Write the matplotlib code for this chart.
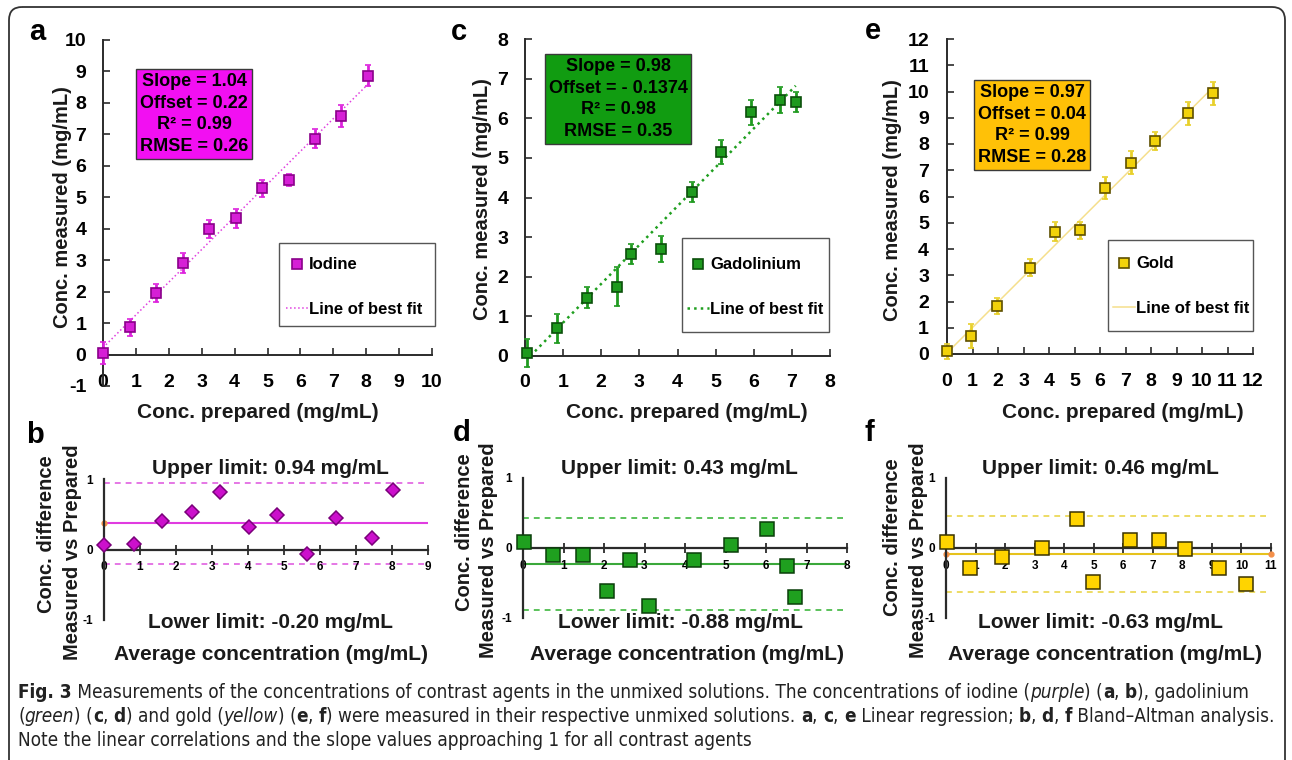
import os
import numpy as np
import matplotlib
matplotlib.use('Agg')
import matplotlib.pyplot as plt
import matplotlib.transforms as mtransforms
from matplotlib.patches import FancyBboxPatch, Rectangle
from matplotlib.lines import Line2D
from matplotlib import font_manager as fm

W, H = 1292, 760
plt.rcParams['font.family'] = ['Liberation Sans', 'DejaVu Sans']
plt.rcParams['font.weight'] = 'bold'
plt.rcParams['axes.unicode_minus'] = False

# ---------------- data ----------------
iodine_prepared = [0.0, 0.82, 1.6, 2.42, 3.23, 4.03, 4.84, 5.65, 6.44, 7.24, 8.06]
iodine_measured = [0.05, 0.87, 1.96, 2.9, 4.0, 4.33, 5.29, 5.55, 6.86, 7.58, 8.86]
iodine_err = [0.35, 0.27, 0.28, 0.32, 0.28, 0.3, 0.27, 0.2, 0.3, 0.35, 0.33]
iodine_fit = dict(slope=1.04, offset=0.22, r2=0.99, rmse=0.26)

gd_prepared = [0.04, 0.83, 1.62, 2.41, 2.79, 3.58, 4.37, 5.14, 5.92, 6.69, 7.1]
gd_measured = [0.07, 0.70, 1.47, 1.75, 2.58, 2.71, 4.14, 5.14, 6.15, 6.46, 6.41]
gd_err = [0.35, 0.37, 0.27, 0.5, 0.25, 0.33, 0.25, 0.3, 0.32, 0.33, 0.25]
gd_fit = dict(slope=0.98, offset=-0.1374, r2=0.98, rmse=0.35)

au_prepared = [0.0, 0.94, 1.95, 3.25, 4.25, 5.2, 6.18, 7.2, 8.17, 9.46, 10.44]
au_measured = [0.1, 0.69, 1.83, 3.29, 4.66, 4.72, 6.31, 7.29, 8.11, 9.17, 9.93]
au_err = [0.3, 0.45, 0.3, 0.32, 0.36, 0.32, 0.42, 0.44, 0.35, 0.44, 0.44]
au_fit = dict(slope=0.97, offset=0.04, r2=0.99, rmse=0.28)

iodine_avg = [0.0, 0.84, 1.62, 2.44, 3.21, 4.04, 4.81, 5.63, 6.44, 7.44, 8.04]
iodine_diff = [0.07, 0.08, 0.40, 0.53, 0.81, 0.32, 0.49, -0.06, 0.44, 0.17, 0.85]
iodine_limits = (0.94, -0.20)

gd_avg = [0.03, 0.73, 1.49, 2.07, 2.64, 3.11, 4.22, 5.14, 6.02, 6.53, 6.72]
gd_diff = [0.09, -0.10, -0.10, -0.61, -0.17, -0.83, -0.17, 0.05, 0.27, -0.25, -0.70]
gd_limits = (0.43, -0.88)

au_avg = [0.04, 0.81, 1.89, 3.24, 4.43, 4.99, 6.24, 7.22, 8.1, 9.25, 10.14]
au_diff = [0.09, -0.28, -0.13, 0.0, 0.42, -0.49, 0.12, 0.12, -0.02, -0.29, -0.52]
au_limits = (0.46, -0.63)

fig = plt.figure(figsize=(W / 100, H / 100), dpi=100)
PX = mtransforms.Affine2D().scale(1 / W, -1 / H).translate(0, 1) + fig.transFigure


def fx(x):
    return x / W


def fy(y):
    return 1 - y / H


def axes_px(x0, x1, ytop, ybot):
    return fig.add_axes([x0 / W, 1 - ybot / H, (x1 - x0) / W, (ybot - ytop) / H])


AXC = '#2b2b2b'


def regression_panel(ax, x, y, err, fit, xlim, ylim, ecolor, mfc, mec,
                     fit_style, box_color, box_center, name, leg_frame, leg_anchor,
                     xpad, ypad):
    ax.set_xlim(*xlim)
    ax.set_ylim(*ylim)
    for s in ['top', 'right']:
        ax.spines[s].set_visible(False)
    ax.spines['bottom'].set_position(('data', 0))
    for s in ['left', 'bottom']:
        ax.spines[s].set_color(AXC)
        ax.spines[s].set_linewidth(1.4)
    ax.set_xticks(np.arange(xlim[0], xlim[1] + 1))
    ax.set_yticks(np.arange(ylim[0], ylim[1] + 1))
    ax.tick_params(axis='both', direction='in', length=5, width=1.2, color=AXC, labelsize=14)
    ax.tick_params(axis='x', pad=xpad)
    ax.tick_params(axis='y', pad=ypad)
    for lab in ax.get_xticklabels() + ax.get_yticklabels():
        lab.set_fontweight('bold')
    x = np.asarray(x)
    x_start = max(0.0, -fit['offset'] / fit['slope'])
    xf = np.array([x_start, x.max()])
    ax.plot(xf, fit['slope'] * xf + fit['offset'], **fit_style, zorder=2)
    cont = ax.errorbar(x, y, yerr=err, fmt='s', ms=7.5, mfc=mfc, mec=mec, mew=1.2,
                       ecolor=ecolor, elinewidth=2, capsize=2.5, capthick=1.5, zorder=3)
    for art in cont.get_children():
        art.set_clip_on(False)
    off = fit['offset']
    off_txt = f"- {abs(off):g}" if off < 0 else f"{off:.2f}"
    txt = (f"Slope = {fit['slope']:.2f}\nOffset = {off_txt}\n"
           f"R\u00b2 = {fit['r2']:.2f}\nRMSE = {fit['rmse']:.2f}")
    fig.text(fx(box_center[0]), fy(box_center[1]), txt, ha='center', va='center',
             multialignment='center', fontsize=13, fontweight='bold', color='black',
             linespacing=1.38,
             bbox=dict(boxstyle='square,pad=0.22', fc=box_color, ec='#3a3a3a', lw=1))
    # legend frame drawn at the reference position, entries placed inside it
    (lx0, ly0, lx1, ly1) = leg_frame
    ax.add_patch(Rectangle((lx0, ly0), lx1 - lx0, ly1 - ly0, transform=PX,
                           fc='white', ec='#555555', lw=1.0, zorder=5, clip_on=False))
    handles = [Line2D([], [], marker='s', ls='none', ms=7, mfc=mfc, mec=mec, mew=1.2),
               Line2D([], [], **fit_style)]
    leg = ax.legend(handles, [name, 'Line of best fit'], loc='center left',
                    bbox_to_anchor=(fx(leg_anchor[0]), fy(leg_anchor[1])),
                    bbox_transform=fig.transFigure, frameon=False,
                    prop={'weight': 'bold', 'size': 12}, handlelength=1.3,
                    handletextpad=0.1, labelspacing=1.75, borderpad=0,
                    borderaxespad=0)
    leg.set_zorder(6)


# ---- a ----
axa = axes_px(103, 432, 40, 386)
regression_panel(axa, iodine_prepared, iodine_measured, iodine_err, iodine_fit,
                 (0, 10), (-1, 10), '#dd22dd', '#d61fd6', '#8a008a',
                 dict(color='#e040e0', ls=':', lw=1.1), '#f20ff2', (194, 114), 'Iodine',
                 (279, 243, 435, 326), (286, 287), 14, 12)
# ---- c ----
axc = axes_px(525, 830, 39, 356)
regression_panel(axc, gd_prepared, gd_measured, gd_err, gd_fit,
                 (0, 8), (0, 8), '#1f9a1f', '#1e9a1e', '#0b4f0b',
                 dict(color='#1f9f1f', ls=':', lw=1.8), '#119c11', (618, 99), 'Gadolinium',
                 (682, 238, 829, 332), (687, 287), 13, 12)
# ---- e ----
axe = axes_px(947, 1253, 39, 354)
regression_panel(axe, au_prepared, au_measured, au_err, au_fit,
                 (0, 12), (0, 12), '#e8d02a', '#f2d20a', '#5e4f00',
                 dict(color='#f5df8c', ls='-', lw=1.1), '#ffc107', (1032, 125), 'Gold',
                 (1108, 240, 1253, 331), (1113, 286), 14, 13)


def ba_panel(ax, avg, diff, limits, xmax, marker, ms, mfc, mec, line_c, mean_c, end_dots):
    ax.set_xlim(0, xmax)
    ax.set_ylim(-1, 1)
    for s in ['top', 'right']:
        ax.spines[s].set_visible(False)
    ax.spines['bottom'].set_position(('data', 0))
    for s in ['left', 'bottom']:
        ax.spines[s].set_color(AXC)
        ax.spines[s].set_linewidth(1.6)
    ax.set_xticks(np.arange(0, xmax + 1))
    ax.set_yticks([-1, 0, 1])
    ax.tick_params(axis='x', direction='inout', length=7, width=1.3, color=AXC,
                   labelsize=8.5, pad=5)
    ax.tick_params(axis='y', length=0, labelsize=8.5, pad=8)
    for lab in ax.get_xticklabels() + ax.get_yticklabels():
        lab.set_fontweight('bold')
    up, lo = limits
    mean = (up + lo) / 2
    ax.axhline(up, color=line_c, ls='--', lw=1.2, dashes=(3.5, 3), zorder=1)
    ax.axhline(lo, color=line_c, ls='--', lw=1.2, dashes=(3.5, 3), zorder=1)
    ax.axhline(mean, color=mean_c, ls='-', lw=1.5, zorder=1)
    if end_dots:
        ax.plot(end_dots, [mean] * len(end_dots), 'o', ms=3.5, color='#f4904a',
                zorder=2, clip_on=False)
    ax.plot(avg, diff, marker, ls='none', ms=ms, mfc=mfc, mec=mec, mew=1.1,
            zorder=4, clip_on=False)


axb = axes_px(104, 428, 479, 620)
ba_panel(axb, iodine_avg, iodine_diff, iodine_limits, 9, 'D', 7.5, '#cc10cc', '#7a007a',
         '#e060e0', '#e03ce0', [0])
axd = axes_px(523, 847, 478, 618)
ba_panel(axd, gd_avg, gd_diff, gd_limits, 8, 's', 9.5, '#1fa01f', '#0a3f0a',
         '#3fb83f', '#3aa83a', [])
axf = axes_px(946, 1271, 478, 618)
ba_panel(axf, au_avg, au_diff, au_limits, 11, 's', 9.5, '#ffd400', '#3a3300',
         '#ead54a', '#e6c21c', [0, 11])

# ---- limit texts ----
limit_pos = [(270, 270, 271, iodine_limits), (679, 680, 687, gd_limits),
             (1100, 1100, 1105, au_limits)]
for xu, xl, xa, (up, lo) in limit_pos:
    fig.text(fx(xu), fy(469), f"Upper limit: {up:.2f} mg/mL", ha='center', va='center',
             fontsize=15, fontweight='bold', color='#1a1a1a')
    fig.text(fx(xl), fy(622), f"Lower limit: {lo:.2f} mg/mL", ha='center', va='center',
             fontsize=15, fontweight='bold', color='#1a1a1a')
    fig.text(fx(xa), fy(655), "Average concentration (mg/mL)", ha='center', va='center',
             fontsize=15, fontweight='bold', color='#1a1a1a')

# ---- axis titles ----
for xc in (258, 687, 1123):
    fig.text(fx(xc), fy(413), "Conc. prepared (mg/mL)", ha='center', va='center',
             fontsize=15, fontweight='bold', color='#1a1a1a')
for xc, yc in ((62, 207), (483, 199), (893, 200)):
    fig.text(fx(xc), fy(yc), "Conc. measured (mg/mL)", ha='center', va='center',
             rotation=90, fontsize=14.5, fontweight='bold', color='#1a1a1a')
for (x1, y1), (x2, y2) in (((47, 534), (72, 552)), ((465, 532), (489, 550)),
                           ((893, 537), (918, 550))):
    fig.text(fx(x1), fy(y1), "Conc. difference", ha='center', va='center', rotation=90,
             fontsize=14.5, fontweight='bold', color='#1a1a1a')
    fig.text(fx(x2), fy(y2), "Measured vs Prepared", ha='center', va='center', rotation=90,
             fontsize=14.5, fontweight='bold', color='#1a1a1a')

# ---- panel letters ----
for letter, (x, y) in zip('abcdef', [(37, 32), (35, 435), (459, 32), (462, 433),
                                     (873, 31), (869, 433)]):
    fig.text(fx(x), fy(y), letter, ha='center', va='center', fontsize=21,
             fontweight='bold', color='black')

# ---- border ----
border = FancyBboxPatch((9, 7), 1276, 800, boxstyle='round,pad=0,rounding_size=13',
                        transform=PX, fc='none', ec='#333333', lw=1.3, clip_on=False)
fig.patches.append(border)


# ---- caption ----
def pick_caption_font():
    for f in fm.fontManager.ttflist:
        fname = os.path.basename(f.fname).lower()
        if 'liberationsansnarrow' in fname.replace('-', '') and 'bold' not in fname \
                and 'italic' not in fname:
            return [f.name], 'normal'
    for f in fm.fontManager.ttflist:
        fname = os.path.basename(f.fname).lower()
        if 'condensed' in fname and 'sans' in fname and 'mono' not in fname:
            return [f.name], 'condensed'
    return ['Liberation Sans'], 'normal'


cap_family, cap_stretch = pick_caption_font()
cap_family = cap_family + ['DejaVu Sans']
renderer = fig.canvas.get_renderer()


def seg_props(style, size):
    return dict(fontsize=size, family=cap_family, fontstretch=cap_stretch,
                fontweight='bold' if style == 'b' else 'normal',
                fontstyle='italic' if style == 'i' else 'normal', color='#222222')


def measure(s, props):
    t1 = fig.text(0, 0, '|' + s + '|', **props)
    t2 = fig.text(0, 0, '||', **props)
    w = t1.get_window_extent(renderer).width - t2.get_window_extent(renderer).width
    t1.remove()
    t2.remove()
    return w


line1 = [("Fig. 3", 'b'), (" Measurements of the concentrations of contrast agents in the unmixed "
                           "solutions. The concentrations of iodine (", 'n'), ("purple", 'i'),
         (") (", 'n'), ("a", 'b'), (", ", 'n'), ("b", 'b'), ("), gadolinium", 'n')]
line2 = [("(", 'n'), ("green", 'i'), (") (", 'n'), ("c", 'b'), (", ", 'n'), ("d", 'b'),
         (") and gold (", 'n'), ("yellow", 'i'), (") (", 'n'), ("e", 'b'), (", ", 'n'),
         ("f", 'b'), (") were measured in their respective unmixed solutions. ", 'n'),
         ("a", 'b'), (", ", 'n'), ("c", 'b'), (", ", 'n'), ("e", 'b'),
         (" Linear regression; ", 'n'), ("b", 'b'), (", ", 'n'), ("d", 'b'), (", ", 'n'),
         ("f", 'b'), (" Bland\u2013Altman analysis.", 'n')]
line3 = [("Note the linear correlations and the slope values approaching 1 for all "
          "contrast agents", 'n')]

base = 12.0
widths = [sum(measure(s, seg_props(st, base)) for s, st in ln) for ln in (line1, line2)]
cap_size = min(14.0, base * (1256 / max(widths)))


def draw_line(segs, x0, yc, size):
    x = x0
    for s, st in segs:
        p = seg_props(st, size)
        fig.text(fx(x), fy(yc), s, ha='left', va='center', **p)
        x += measure(s, p)


draw_line(line1, 18, 692, cap_size)
draw_line(line2, 18, 716, cap_size)
draw_line(line3, 18, 740, cap_size)

fig.savefig('out.png', dpi=100)
